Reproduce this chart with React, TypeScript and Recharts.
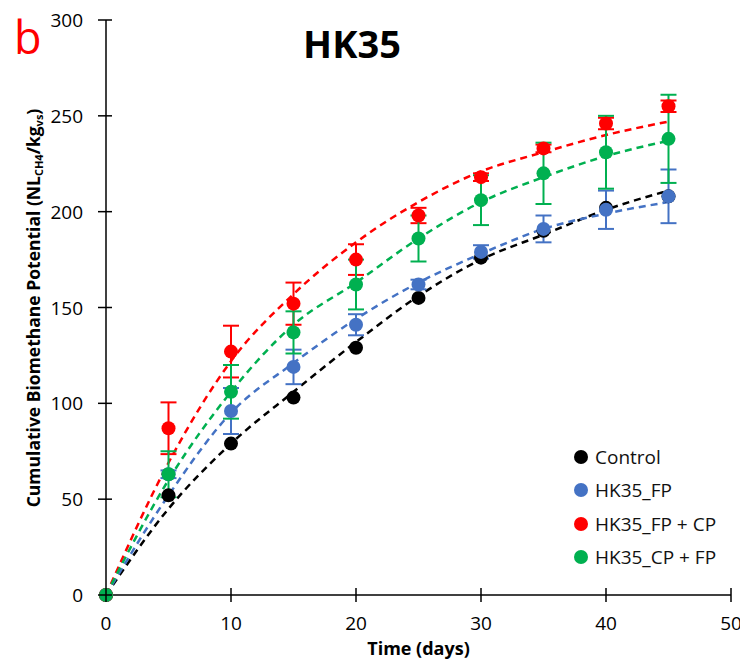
import React from 'react';
import { ComposedChart, Line, Scatter, ErrorBar, XAxis, YAxis } from 'recharts';

// sampling days
const days = [0, 5, 10, 15, 20, 25, 30, 35, 40, 45];

// measured values (NL CH4 / kg VS)
const control = [0, 52, 79, 103, 129, 155, 176, 190, 202, 208];
const fp = [0, 63, 96, 119, 141, 162, 179, 191, 201, 208];
const fpErr = [0, 2, 12, 9, 5.5, 2.5, 3.5, 7, 10, 14];
const fpCp = [0, 87, 127, 152, 175, 198, 218, 233, 246, 255];
const fpCpErr = [0, 13.5, 13.5, 11, 8, 4, 2, 2, 3, 3];
const cpFp = [0, 63, 106, 137, 162, 186, 206, 220, 231, 238];
const cpFpErr = [0, 12, 14, 11, 13, 12, 13, 16, 19, 23];

// dashed model curves
const controlFit = [0, 45, 79, 106, 132, 156, 175, 188, 201, 211];
const fpFit = [0, 52, 95, 121, 144, 163, 178, 191, 199, 205];
const fpCpFit = [0, 69, 122, 157, 184, 205, 221, 231, 240, 247];
const cpFpFit = [0, 60, 106, 141, 163, 186, 205, 218, 229, 237];

const xTicks = [0, 10, 20, 30, 40, 50];
const yTicks = [0, 50, 100, 150, 200, 250, 300];

const series = [
  { name: 'Control', color: '#000000', values: control, err: null, fit: controlFit },
  { name: 'HK35_FP', color: '#4472C4', values: fp, err: fpErr, fit: fpFit },
  { name: 'HK35_FP + CP', color: '#FF0000', values: fpCp, err: fpCpErr, fit: fpCpFit },
  { name: 'HK35_CP + FP', color: '#00B050', values: cpFp, err: cpFpErr, fit: cpFpFit },
];

const toRows = (vals: number[], err?: number[] | null) =>
  days.map((t, i) => ({ t, v: vals[i], e: err ? err[i] : 0 }));

const FONT = '"Open Sans", sans-serif';

const YTick = ({ x, y, payload }: any) => (
  <g>
    <line x1={x - 8} x2={x + 6} y1={y} y2={y} stroke="#000" strokeWidth={1.5} />
    <text x={x - 23} y={y} textAnchor="end" dominantBaseline="central" fontSize={19} fill="#000" fontFamily={FONT}>
      {payload.value}
    </text>
  </g>
);

const XTick = ({ x, y, payload }: any) => (
  <g>
    <line x1={x} x2={x} y1={y - 7} y2={y + 7} stroke="#000" strokeWidth={1.5} />
    <text x={x} y={y + 28} textAnchor="middle" dominantBaseline="central" fontSize={19} fill="#000" fontFamily={FONT}>
      {payload.value}
    </text>
  </g>
);

const YLabel = () => (
  <text
    x={33}
    y={308}
    transform="rotate(-90 33 308)"
    textAnchor="middle"
    dominantBaseline="central"
    fontSize={17.5}
    fontWeight="bold"
    fontFamily={FONT}
    fill="#000"
  >
    Cumulative Biomethane Potential (NL
    <tspan fontSize={11} dy={5}>CH4</tspan>
    <tspan dy={-5}>/kg</tspan>
    <tspan fontSize={11} dy={5}>vs</tspan>
    <tspan dy={-5}>)</tspan>
  </text>
);

const Dot = (color: string) => (props: any) => (
  <circle cx={props.cx} cy={props.cy} r={7} fill={color} />
);

export default function App() {
  return (
    <div style={{ position: 'fixed', left: 0, top: 0, width: 740, height: 660, background: '#fff', fontFamily: FONT }}>
      <ComposedChart width={740} height={660} margin={{ top: 20, right: 9, bottom: 0, left: 46 }}>
        <XAxis
          type="number"
          dataKey="t"
          domain={[0, 50]}
          ticks={xTicks}
          height={65}
          tickLine={false}
          tickSize={0}
          tickMargin={0}
          tick={<XTick />}
          axisLine={{ stroke: '#000', strokeWidth: 1.5 }}
          label={{ value: 'Time (days)', position: 'insideBottom', offset: 5, fontSize: 18, fontWeight: 'bold', fill: '#000', fontFamily: FONT }}
        />
        <YAxis
          type="number"
          domain={[0, 300]}
          ticks={yTicks}
          width={60}
          tickLine={false}
          tickSize={0}
          tickMargin={0}
          tick={<YTick />}
          axisLine={{ stroke: '#000', strokeWidth: 1.5 }}
          label={{ content: <YLabel /> }}
        />
        {series.map((s) => (
          <Line
            key={s.name + '-fit'}
            data={toRows(s.fit)}
            dataKey="v"
            type="monotone"
            stroke={s.color}
            strokeWidth={2.5}
            strokeDasharray="7 5"
            dot={false}
            activeDot={false}
            isAnimationActive={false}
          />
        ))}
        {series.map((s) => (
          <Scatter
            key={s.name}
            name={s.name}
            data={toRows(s.values, s.err)}
            dataKey="v"
            fill={s.color}
            shape={Dot(s.color)}
            isAnimationActive={false}
          >
            {s.err && (
              <ErrorBar dataKey="e" direction="y" width={8} stroke={s.color} strokeWidth={2} isAnimationActive={false} />
            )}
          </Scatter>
        ))}
      </ComposedChart>

      <div style={{ position: 'absolute', left: 14, top: 12, fontSize: 45, color: '#FF0000', lineHeight: '50px' }}>b</div>
      <div style={{ position: 'absolute', left: 252, width: 200, top: 18, textAlign: 'center', fontSize: 38, fontWeight: 'bold', lineHeight: '50px', color: '#000' }}>
        HK35
      </div>

      <div style={{ position: 'absolute', left: 574, top: 440 }}>
        {series.map((s) => (
          <div key={s.name} style={{ display: 'flex', alignItems: 'center', height: 33.5, fontSize: 19, color: '#111' }}>
            <span style={{ width: 14, height: 14, borderRadius: '50%', background: s.color, marginRight: 7 }} />
            {s.name}
          </div>
        ))}
      </div>
    </div>
  );
}
